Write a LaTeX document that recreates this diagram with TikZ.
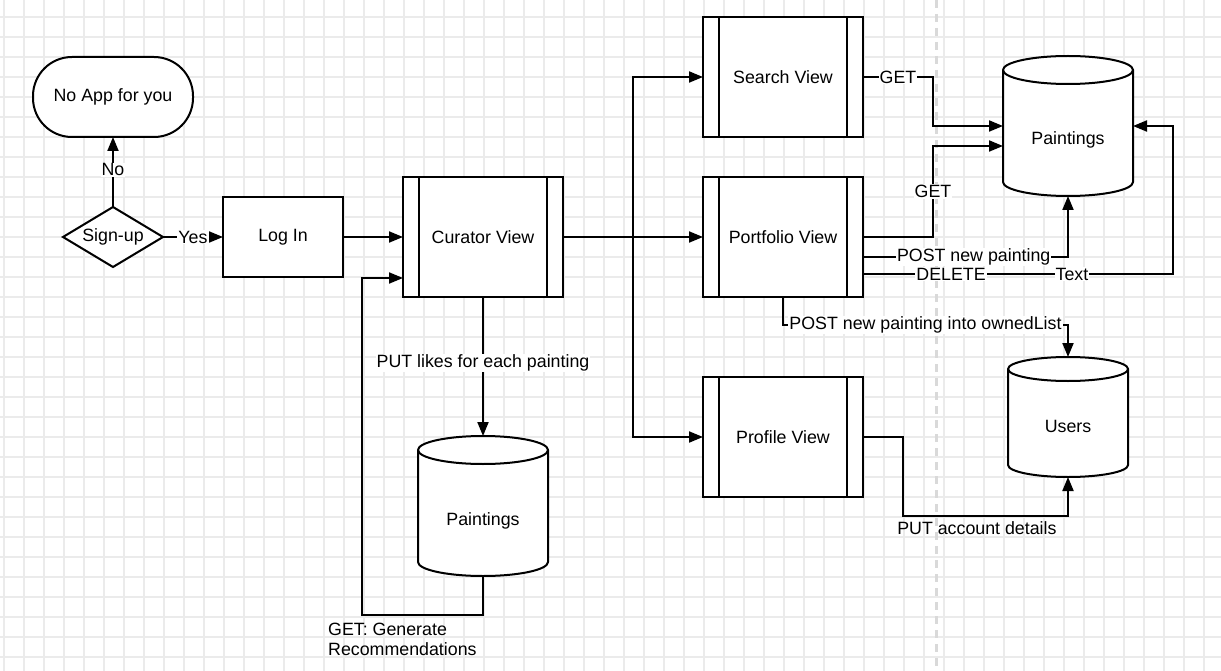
\documentclass[tikz,border=0pt]{standalone}
\usepackage{fontspec}
\setmainfont{Liberation Sans}
\usetikzlibrary{arrows.meta,shapes.geometric,calc}
\pgfdeclarelayer{bg}
\pgfdeclarelayer{cyl}
\pgfsetlayers{bg,cyl,main}
\newcommand\mycyl[3]{%
  \draw[line width=2pt,fill=white] ([yshift=-#3]#1.north west) -- ([yshift=#3]#1.south west)
     arc[start angle=180,end angle=360,x radius=#2,y radius=#3]
     -- ([yshift=-#3]#1.north east)
     arc[start angle=0,end angle=180,x radius=#2,y radius=#3] -- cycle;
  \draw[line width=2pt] ([yshift=-#3]#1.north west) arc[start angle=180,end angle=360,x radius=#2,y radius=#3];}
\begin{document}
\begin{tikzpicture}[x=1pt,y=1pt,
  every node/.style={font=\fontsize{17.8}{20}\selectfont},
  ln/.style={line width=2pt},
  arr/.style={line width=2pt,-{Triangle[length=14pt,width=11pt]}},
  lbl/.style={fill=white,inner sep=1pt},
  procbox/.style={draw,line width=2pt,fill=white,minimum width=160pt,minimum height=120pt,inner sep=0pt,outer sep=0pt},
  cylbox/.style={inner sep=0pt,outer sep=0pt},
  plainbox/.style={draw,line width=2pt,fill=white,inner sep=0pt,outer sep=0pt}]
\useasboundingbox (0,0) rectangle (1221,-671);
\begin{pgfonlayer}{bg}
  \fill[white] (0,0) rectangle (1221,-671);
  \begin{scope}
    \clip (0,0) rectangle (1221,-671);
    \begin{scope}[shift={(4,-17)}]
      \draw[black!8,line width=1.5pt,step=20pt] (-20,-680) grid (1240,40);
    \end{scope}
    \draw[black!15,line width=3pt,dash pattern=on 8pt off 6pt] (936,0) -- (936,-671);
  \end{scope}
\end{pgfonlayer}

% nodes
\node[plainbox,rounded corners=39pt,minimum width=160pt,minimum height=80pt] (NA) at (113,-97) {No App for you};
\node[plainbox,diamond,aspect=1.667,minimum width=100pt,minimum height=60pt] (SU) at (113,-237) {Sign-up};
\node[plainbox,minimum width=120pt,minimum height=80pt] (LI) at (283,-237) {Log In};
\node[procbox] (CV) at (483,-237) {Curator View};
\node[procbox] (SV) at (783,-77) {Search View};
\node[procbox] (PV) at (783,-237) {Portfolio View};
\node[procbox] (PrV) at (783,-437) {Profile View};
\foreach \n in {CV,SV,PV,PrV} {
  \draw[ln] ([xshift=16pt]\n.north west) -- ([xshift=16pt]\n.south west)
            ([xshift=-16pt]\n.north east) -- ([xshift=-16pt]\n.south east);
}
\node[cylbox,minimum width=130pt,minimum height=140pt] (P1) at (1068,-126) {\raisebox{-18.4pt}[0pt][0pt]{Paintings}};
\node[cylbox,minimum width=130pt,minimum height=140pt] (P2) at (483,-506) {\raisebox{-19.4pt}[0pt][0pt]{Paintings}};
\node[cylbox,minimum width=120pt,minimum height=120pt] (U) at (1068,-417) {\raisebox{-15.4pt}[0pt][0pt]{Users}};
\begin{pgfonlayer}{cyl}
  \mycyl{P1}{65pt}{14pt}
  \mycyl{P2}{65pt}{14pt}
  \mycyl{U}{60pt}{12pt}
\end{pgfonlayer}

% connectors
\draw[arr] (SU.north) -- node[lbl,pos=0.53]{No} (NA.south);
\draw[arr] (SU.east) -- node[lbl]{Yes} (LI.west);
\draw[arr] (LI.east) -- (CV.west);
\draw[arr] (CV.east) -- (PV.west);
\draw[ln] (CV.east) -- ++(70,0) coordinate (J);
\draw[arr] (J) |- (SV.west);
\draw[arr] (J) |- (PrV.west);
\draw[arr] (SV.east) -- node[lbl]{GET} ++(70,0) |- (P1.west);
\draw[arr] (PV.east) -- ++(70,0) -- node[lbl]{GET} ($(P1.west)+(-70,-20)$) -- ([yshift=-20pt]P1.west);
\draw[arr] ([yshift=-20pt]PV.east) -| node[lbl,pos=0.27]{POST new painting} (P1.south);
\draw[arr] ([yshift=-37pt]PV.east) -- node[lbl,pos=0.284]{DELETE} node[lbl,pos=0.674]{Text}
   ($(P1.east)+(40,-148)$) -- ($(P1.east)+(40,0)$) -- (P1.east);
\draw[arr] (PV.south) -- ++(0,-28) -| node[lbl,pos=0.25]{POST new painting into ownedList} (U.north);
\draw[arr] (PrV.east) -- ++(40,0) -- ++(0,-79) -| node[pos=0.224,below=1pt]{PUT account details} (U.south);
\draw[arr] (CV.south) -- node[lbl,pos=0.475]{PUT likes for each painting} (P2.north);
\draw[arr] (P2.south) -- ++(0,-39) coordinate (L) -| ($(CV.west)+(-41,-41)$) -- ([yshift=-41pt]CV.west);
\node[anchor=north west,align=left,inner sep=0pt] (GL) at ($(L)+(-155,-8)$) {GET: Generate\\Recommendations};
\end{tikzpicture}
\end{document}
